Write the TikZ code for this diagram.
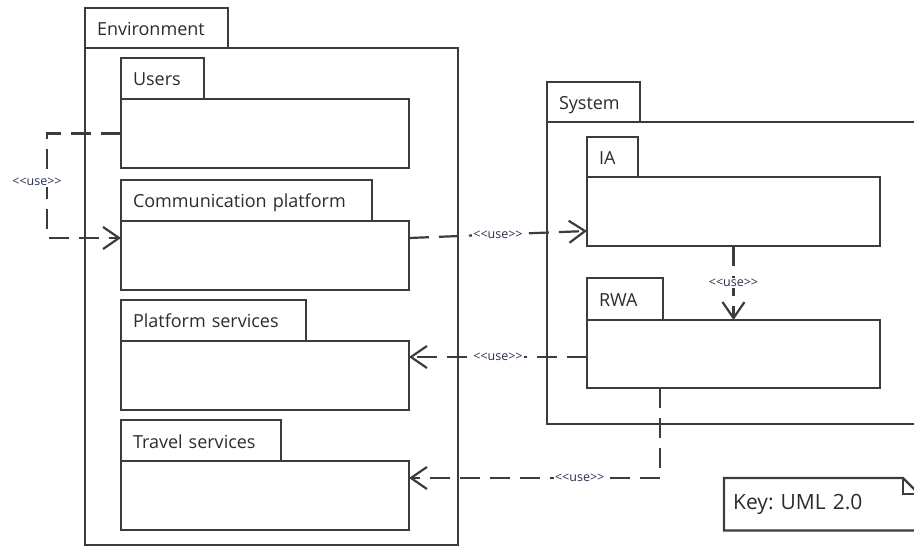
\documentclass[tikz,border=0pt]{standalone}
\usepackage{fontspec}
\setmainfont{Open Sans}
\usepackage{tikz}
\usetikzlibrary{arrows.meta, positioning, calc}
\definecolor{cLine}{RGB}{60,60,60}
\definecolor{cText}{RGB}{44,44,44}
\definecolor{cUse}{RGB}{40,48,80}
\tikzset{
    pkgbody/.style ={rectangle, draw=cLine, line width=2.2pt, outer sep=0pt, fill=white},
    pkgtab/.style  ={rectangle, draw=cLine, line width=2.2pt, outer sep=0pt, fill=white, anchor=south west, minimum height=41pt, inner xsep=12pt, text width=#1, align=left, text height=17pt, text depth=2pt, font=\fontsize{18}{20}\selectfont, text=cText},
    part/.style    ={pkgbody, minimum width=288pt, minimum height=69pt},
    usedep/.style  ={draw=cLine, line width=2.2pt, dash pattern=on 20pt off 10pt, -{Straight Barb[length=16pt, width=22pt]}},
    uselabel/.style={font=\fontsize{12.5}{14}\selectfont, text=cUse, fill=white, inner sep=1pt},
}
\newcommand{\uselbl}{<\kern0pt<use>\kern0pt>}

\begin{document}
\frenchspacing
\begin{tikzpicture}[x=1pt, y=-1pt]
        \clip (0,0) rectangle (914,548);
        \node[pkgbody, anchor=north west, minimum width=373pt, minimum height=497pt] (env) at (85,48) {};
        \node[pkgtab=119pt, minimum height=40pt] (envtab) at (env.north west) {Environment};
        \node[part, anchor=north west] (users) at (121,99) {};
        \node[part, below=53pt of users] (comm)   {};
        \node[part, below=51pt of comm]  (plat)   {};
        \node[part, below=51pt of plat]  (travel) {};
        \node[pkgtab=59pt]  (userstab)  at (users.north west)  {Users};
        \node[pkgtab=227pt] (commtab)   at (comm.north west)   {Communication platform};
        \node[pkgtab=161pt] (plattab)   at (plat.north west)   {Platform services};
        \node[pkgtab=136pt] (traveltab) at (travel.north west) {Travel services};

        \node[pkgbody, anchor=north west, minimum width=380pt, minimum height=302pt] (sys) at (547,122) {};
        \node[pkgtab=69pt, minimum height=40pt] (systab) at (sys.north west) {System};
        \node[pkgbody, anchor=north west, minimum width=293pt, minimum height=69pt] (ia) at (587,177) {};
        \node[pkgbody, minimum width=293pt, minimum height=68pt, below=74pt of ia] (rwa) {};
        \node[pkgtab=27pt, minimum height=40pt] (iatab)  at (ia.north west)  {IA};
        \node[pkgtab=52pt, minimum height=42pt] (rwatab) at (rwa.north west) {RWA};

        \node[anchor=north west, minimum height=52pt, inner xsep=9pt, text width=180pt, align=left, font=\fontsize{21}{24}\selectfont, text=cText] (key) at (724,478) {Key: UML 2.0};
        \draw[cLine, line width=2.2pt] ([xshift=200pt]key.south west) -- (key.south west) -- (key.north west) -- ([xshift=179pt]key.north west) -- ([xshift=195pt, yshift=-16pt]key.north west) -- ([xshift=195pt]key.south west);
        \draw[cLine, line width=2.2pt] ([xshift=179pt]key.north west) |- ([xshift=195pt, yshift=-16pt]key.north west);

        \draw[usedep] (users.west) -- ++(-74,0) |- ([yshift=-17pt]comm.north west) node[uselabel, pos=0.25, xshift=-10pt, yshift=4pt] {\uselbl};
        \draw[usedep] ([yshift=-17pt]comm.north east) -- ([yshift=-54pt]ia.north west) node[uselabel, midway] {\uselbl};
        \draw[usedep] (ia.south) -- (rwa.north) node[uselabel, midway] {\uselbl};
        \draw[usedep] ([yshift=-37pt]rwa.north west) -- ([yshift=-16pt]plat.north east) node[uselabel, midway] {\uselbl};
        \draw[usedep] ([xshift=73pt]rwa.south west) |- ([yshift=-17pt]travel.north east) node[uselabel, pos=0.66] {\uselbl};
    \end{tikzpicture}
\end{document}
